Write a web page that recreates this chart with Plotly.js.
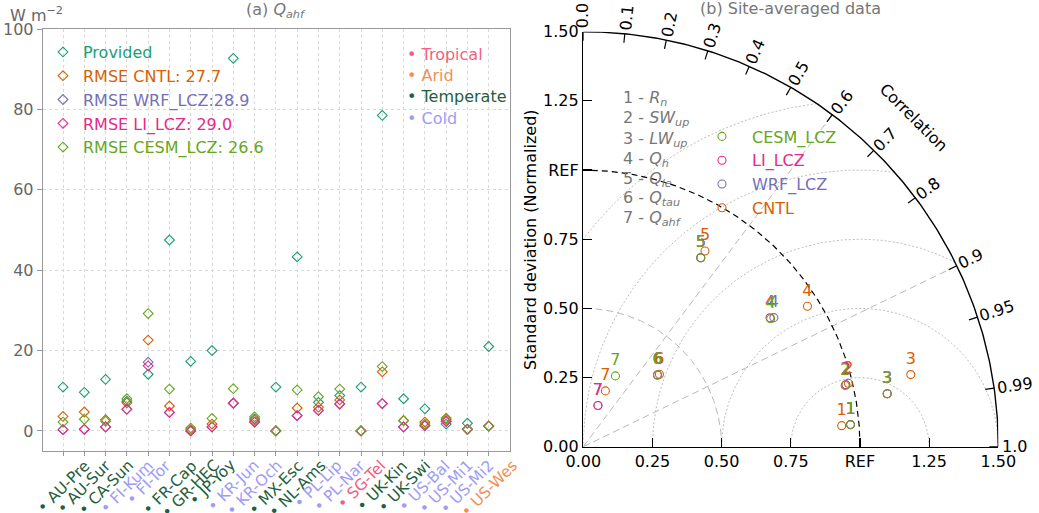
<!DOCTYPE html>
<html><head><meta charset="utf-8">
<script src="https://cdn.plot.ly/plotly-3.0.1.min.js"></script>
<style>body{margin:0;background:#fff}#chart{width:1039px;height:513px}</style>
</head><body><div id="chart"></div>
<script>
// ---------- Panel (a) data ----------
const sites = ['AU-Pre','AU-Sur','CA-Sun','FI-Kum','FI-Tor','FR-Cap','GR-HEC','JP-Yoy','KR-Jun','KR-Och','MX-Esc','NL-Ams','PL-Lip','PL-Nar','SG-Tel','UK-Kin','UK-Swi','US-Bal','US-Mi1','US-Mi2','US-Wes'];
const climate = ['Temperate','Temperate','Temperate','Cold','Cold','Temperate','Temperate','Temperate','Cold','Cold','Temperate','Temperate','Cold','Cold','Tropical','Temperate','Temperate','Cold','Cold','Cold','Arid'];
const provided = [10.9,9.6,12.8,7.4,14.1,47.5,17.3,20.0,92.7,3.0,10.9,43.3,7.1,8.8,10.9,78.5,8.0,5.5,1.7,1.9,21.0];
const cntl     = [3.6,4.7,2.8,7.0,22.6,6.2,0.3,1.7,6.9,2.7,0.0,5.7,5.9,7.7,0.0,14.7,2.6,2.2,2.9,0.4,1.2];
const wrfLcz   = [0.3,0.4,1.0,5.4,17.1,4.6,0.0,1.0,6.9,2.2,0.0,3.8,5.1,6.7,0.0,6.8,1.0,1.3,2.4,0.4,1.2];
const liLcz    = [0.3,0.4,1.0,5.4,16.2,4.6,0.0,1.0,6.9,2.2,0.0,3.8,5.1,6.7,0.0,6.8,1.0,1.3,2.4,0.4,1.2];
const cesmLcz  = [2.2,2.9,2.4,8.0,29.2,10.4,0.7,3.1,10.5,3.5,0.0,10.2,8.5,10.4,0.0,16.0,2.5,1.7,3.2,0.4,1.2];
const seriesNames = ['Provided','RMSE CNTL: 27.7','RMSE WRF_LCZ:28.9','RMSE LI_LCZ: 29.0','RMSE CESM_LCZ: 26.6'];
const climateNames = ['Tropical','Arid','Temperate','Cold'];

// ---------- Panel (b) data (std normalized, correlation) ----------
const varNums = ['1','2','3','4','5','6','7'];
const varLabels = ['1 - <i>R</i><sub><i>n</i></sub>','2 - <i>SW</i><sub><i>up</i></sub>','3 - <i>LW</i><sub><i>up</i></sub>','4 - <i>Q</i><sub><i>h</i></sub>','5 - <i>Q</i><sub><i>le</i></sub>','6 - <i>Q</i><sub><i>tau</i></sub>','7 - <i>Q</i><sub><i>ahf</i></sub>'];
const cntlStd  = [0.937,0.985,1.212,0.956,0.833,0.380,0.217];
const cntlCorr = [0.9967,0.9725,0.9766,0.8474,0.528,0.724,0.368];
const wrfStd   = [0.969,0.975,1.115,0.832,0.804,0.373,0.158];
const wrfCorr  = [0.9966,0.9733,0.9852,0.828,0.528,0.719,0.335];
const liStd    = [0.969,0.975,1.115,0.820,0.804,0.373,0.158];
const liCorr   = [0.9966,0.9733,0.9852,0.823,0.528,0.719,0.335];
const cesmStd  = [0.969,0.972,1.115,0.820,0.804,0.373,0.281];
const cesmCorr = [0.9966,0.9737,0.9852,0.826,0.528,0.719,0.413];
const modelNames = ['CNTL','WRF_LCZ','LI_LCZ','CESM_LCZ'];
const corrTicks = [0,0.1,0.2,0.3,0.4,0.5,0.6,0.7,0.8,0.9,0.95,0.99,1.0];
const corrTickText = ['0.0','0.1','0.2','0.3','0.4','0.5','0.6','0.7','0.8','0.9','0.95','0.99','1.0'];
const stdTicks = [0,0.25,0.5,0.75,1.0,1.25,1.5];
const stdTickText = ['0.00','0.25','0.50','0.75','REF','1.25','1.50'];

// ---------- styling ----------
const W = 1039, H = 513;
const C = {prov:'#1b9e77', cntl:'#d95f02', wrf:'#7570b3', li:'#e7298a', cesm:'#66a61e'};
const climColor = {Tropical:'#f45f7e', Arid:'#f28f55', Temperate:'#1f6040', Cold:'#a09cf6'};
const FONT = 'DejaVu Sans, sans-serif';
const col = (c, t) => '<span style="color:' + c + '">' + t + '</span>';
const pxX = v => v / W, pxY = v => 1 - v / H;
// Taylor frame in pixels
const OX = 583.3, OY = 446.7, R = 1.5, SC = 415 / 1.5;

const traces = [];
const sCols = [C.prov, C.cntl, C.wrf, C.li, C.cesm];
[provided, cntl, wrfLcz, liLcz, cesmLcz].forEach((arr, i) => {
  traces.push({type:'scatter', mode:'markers', x:sites, y:arr, xaxis:'x', yaxis:'y',
    name: col(sCols[i], seriesNames[i]), legend:'legend', cliponaxis:false,
    marker:{symbol:'diamond-open', size:7.5, color:sCols[i], line:{width:1.1, color:sCols[i]}},
    hoverinfo:'x+y'});
});

function lineTrace(xs, ys, color, width, dash) {
  traces.push({type:'scatter', mode:'lines', x:xs, y:ys, xaxis:'x2', yaxis:'y2', showlegend:false,
    hoverinfo:'skip', cliponaxis:false, line:{color:color, width:width, dash:dash}});
}
function arcOrigin(r) {
  const xs = [], ys = [];
  for (let i = 0; i <= 180; i++) { const t = i / 180 * Math.PI / 2; xs.push(r * Math.cos(t)); ys.push(r * Math.sin(t)); }
  return [xs, ys];
}
// RMSD arcs centred at REF
[0.25, 0.5, 0.75, 1.0, 1.25].forEach(rho => {
  let p0 = 0, p1 = Math.PI;
  if (1 + rho > R) p0 = Math.acos(((R * R + 1 - rho * rho) / 2 - 1) / rho);
  if (1 - rho < 0) p1 = Math.acos(-1 / rho);
  const xs = [], ys = [];
  for (let i = 0; i <= 240; i++) { const p = p0 + (p1 - p0) * i / 240; xs.push(1 + rho * Math.cos(p)); ys.push(rho * Math.sin(p)); }
  lineTrace(xs, ys, '#bdbdbd', 1, '2px,2px');
});
let a = arcOrigin(0.5); lineTrace(a[0], a[1], '#b8b8b8', 1, '7px,4px');
[0.6, 0.9].forEach(c => lineTrace([0, R * c], [0, R * Math.sqrt(1 - c * c)], '#b8b8b8', 1, '7px,4px'));
a = arcOrigin(1.0); lineTrace(a[0], a[1], '#000', 1.2, '6px,4px');
a = arcOrigin(R); lineTrace(a[0], a[1], '#000', 1.4, 'solid');
(() => {
  const xs = [], ys = [];
  const r2 = R - 9 / SC;
  corrTicks.forEach(c => { const s = Math.sqrt(1 - c * c); xs.push(R * c, r2 * c, null); ys.push(R * s, r2 * s, null); });
  lineTrace(xs, ys, '#000', 1.2, 'solid');
})();

// model points
const mStd = [cntlStd, wrfStd, liStd, cesmStd], mCorr = [cntlCorr, wrfCorr, liCorr, cesmCorr];
const mCol = [C.cntl, C.wrf, C.li, C.cesm];
mStd.forEach((sd, k) => {
  const xs = sd.map((s, i) => s * mCorr[k][i]);
  const ys = sd.map((s, i) => s * Math.sqrt(1 - mCorr[k][i] * mCorr[k][i]));
  traces.push({type:'scatter', mode:'markers', x:xs, y:ys, xaxis:'x2', yaxis:'y2', cliponaxis:false,
    name: col(mCol[k], modelNames[k]), legend:'legend2',
    marker:{symbol:'circle-open', size:8, color:mCol[k], line:{width:1.1, color:mCol[k]}}});
  traces.push({type:'scatter', mode:'markers+text', x:xs, y:ys, text:varNums, textposition:'top center', xaxis:'x2', yaxis:'y2',
    cliponaxis:false, showlegend:false, hoverinfo:'skip', marker:{size:9, opacity:0, color:mCol[k]},
    textfont:{family:FONT, size:16, color:mCol[k]}});
});

const annotations = [];
function ann(o) { annotations.push(Object.assign({showarrow:false, xref:'paper', yref:'paper', font:{family:FONT, size:16, color:'#000'}}, o)); }
ann({x:pxX(276), y:pxY(10), text:'(a) <i>Q</i><sub><i>ahf</i></sub>', font:{family:FONT, size:16, color:'#777'}, xanchor:'center', yanchor:'middle'});
ann({x:pxX(790), y:pxY(8.5), text:'(b) Site-averaged data', font:{family:FONT, size:16, color:'#777'}, xanchor:'center', yanchor:'middle'});
ann({x:pxX(8), y:pxY(15), text:'W m<sup>−2</sup>', font:{family:FONT, size:16, color:'#666'}, xanchor:'left', yanchor:'middle'});
climateNames.forEach((c, i) => ann({x:pxX(405), y:pxY([55, 75.5, 96.5, 118][i]), text:'• ' + c, font:{family:FONT, size:16, color:climColor[c]}, xanchor:'left', yanchor:'middle'}));
varLabels.forEach((t, i) => ann({x:pxX(621), y:pxY([98, 119, 139.5, 159.5, 179.5, 198.5, 218.5][i]), text:t, font:{family:FONT, size:16, color:'#777'}, xanchor:'left', yanchor:'middle'}));
ann({x:pxX(914), y:pxY(117), text:'Correlation', textangle:45, xanchor:'center', yanchor:'middle'});
ann({x:pxX(530), y:pxY(240), text:'Standard deviation (Normalized)', textangle:-90, xanchor:'center', yanchor:'middle'});
// correlation tick labels (rotated radially, outside the outer arc)
corrTicks.forEach((c, i) => {
  const t = corrTickText[i];
  const half = 16 * (0.636 * (t.length - 1) + 0.318) / 2;
  const rp = R * SC + 3 + half;
  const th = Math.acos(c);
  ann({x:pxX(OX + rp * Math.cos(th)), y:pxY(OY - rp * Math.sin(th)), text:t,
    textangle:-th * 180 / Math.PI, xanchor:'center', yanchor:'middle'});
});
// site labels (rotated, centred under the tick like matplotlib)
sites.forEach((s, i) => {
  annotations.push({xref:'x', yref:'paper', x:s, y:pxY(454), text:'• ' + s, showarrow:false, textangle:-45,
    xanchor:'center', yanchor:'top', font:{family:FONT, size:15.5, color:climColor[climate[i]]}});
});

const greyAxis = {showline:true, linecolor:'#999', linewidth:1, mirror:true, ticks:'outside', ticklen:4, tickcolor:'#999',
  showgrid:true, gridcolor:'#d9d9d9', griddash:'dot', gridwidth:1, zeroline:false};
const layout = {
  width:W, height:H, margin:{l:0, r:0, t:0, b:0}, paper_bgcolor:'#fff', plot_bgcolor:'#fff',
  font:{family:FONT, size:16, color:'#000'}, showlegend:true, hovermode:'closest',
  xaxis: Object.assign({}, greyAxis, {domain:[pxX(42.7), pxX(510)], type:'category', range:[-0.954, 21.0],
    tickmode:'array', tickvals:sites, showticklabels:false, anchor:'y'}),
  yaxis: Object.assign({}, greyAxis, {domain:[1 - 451 / H, 1 - 29 / H], range:[-5, 100], tickvals:[0, 20, 40, 60, 80, 100],
    ticklen:5, tickfont:{family:FONT, size:16, color:'#666'}, anchor:'x'}),
  xaxis2: {domain:[pxX(OX), pxX(OX + R * SC)], range:[0, 1.5], anchor:'y2', tickmode:'array', tickvals:stdTicks, ticktext:stdTickText,
    ticks:'inside', ticklen:9, tickcolor:'#000', tickwidth:1.2, showline:true, linecolor:'#000', linewidth:1.4,
    showgrid:false, zeroline:false, tickfont:{family:FONT, size:16, color:'#000'}},
  yaxis2: {domain:[1 - OY / H, 1 - (OY - R * SC) / H], range:[0, 1.5], anchor:'x2', tickmode:'array', tickvals:stdTicks, ticktext:stdTickText,
    ticks:'inside', ticklen:9, tickcolor:'#000', tickwidth:1.2, showline:true, linecolor:'#000', linewidth:1.4,
    showgrid:false, zeroline:false, tickfont:{family:FONT, size:16, color:'#000'}},
  legend: {x:pxX(43), y:pxY(35), xanchor:'left', yanchor:'top', bgcolor:'rgba(0,0,0,0)', font:{family:FONT, size:16}, traceorder:'normal'},
  legend2: {x:pxX(692), y:pxY(119.5), xanchor:'left', yanchor:'top', bgcolor:'rgba(0,0,0,0)', font:{family:FONT, size:16}, traceorder:'reversed', itemwidth:50},
  annotations: annotations
};
Plotly.newPlot('chart', traces, layout, {staticPlot:true});
</script></body></html>
